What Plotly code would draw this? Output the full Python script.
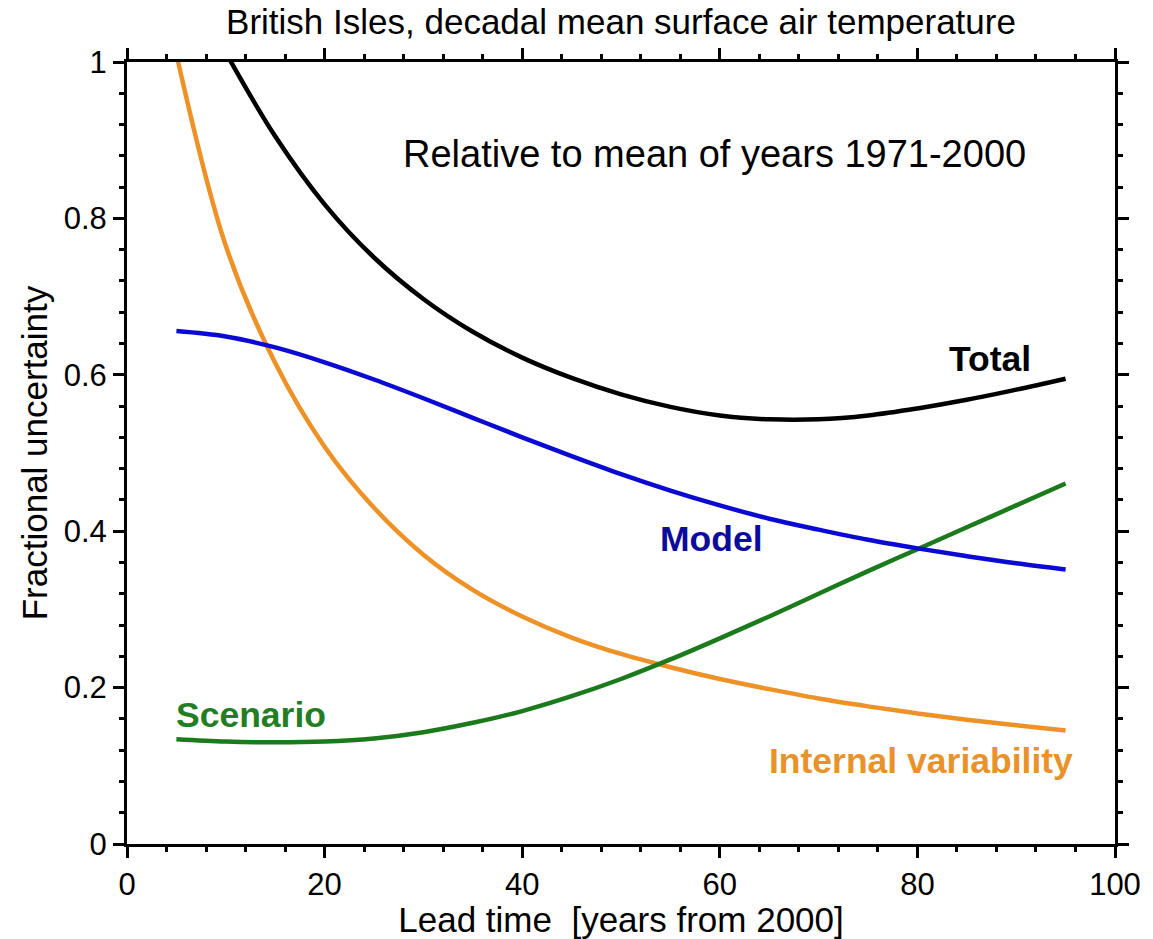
import plotly.graph_objects as go

# Lead time (years from 2000)
lead_time = [5, 10, 15, 20, 25, 30, 35, 40, 45, 50, 55, 60, 65, 70, 75, 80, 85, 90, 95]

# Fractional uncertainty components
internal = [1.01, 0.765, 0.615, 0.508, 0.430, 0.370, 0.325, 0.291, 0.264, 0.243, 0.226, 0.211, 0.198, 0.186, 0.176, 0.167, 0.159, 0.152, 0.145]
model = [0.656, 0.649, 0.635, 0.616, 0.594, 0.570, 0.545, 0.520, 0.496, 0.473, 0.452, 0.433, 0.416, 0.402, 0.389, 0.378, 0.368, 0.359, 0.351]
scenario = [0.134, 0.131, 0.130, 0.131, 0.135, 0.143, 0.155, 0.170, 0.189, 0.211, 0.236, 0.263, 0.291, 0.320, 0.349, 0.377, 0.405, 0.433, 0.461]
total = [None, 1.012, 0.905, 0.818, 0.750, 0.697, 0.655, 0.622, 0.596, 0.575, 0.559, 0.548, 0.543, 0.543, 0.548, 0.557, 0.568, 0.581, 0.595]

x_ticks = [0, 20, 40, 60, 80, 100]
y_ticks = [0, 0.2, 0.4, 0.6, 0.8, 1]
y_tick_text = ["0", "0.2", "0.4", "0.6", "0.8", "1"]

FONT = "Liberation Sans, Arial, sans-serif"
BLACK = "#000000"
BLUE = "#0a0ad2"
GREEN = "#1b7a1b"
ORANGE = "#ee9228"

fig = go.Figure()
series = [
    (internal, ORANGE, "Internal variability"),
    (scenario, GREEN, "Scenario"),
    (model, BLUE, "Model"),
    (total, BLACK, "Total"),
]
for vals, col, name in series:
    fig.add_trace(go.Scatter(
        x=lead_time, y=vals, mode="lines", name=name,
        line=dict(color=col, width=4.5, shape="spline", smoothing=1.0),
        connectgaps=False, showlegend=False,
    ))

labels = [
    ("Total", 87.3, 0.62, BLACK),
    ("Model", 59.2, 0.39, "#0b0b9c"),
    ("Scenario", 12.6, 0.165, "#237d23"),
    ("Internal variability", 80.4, 0.106, "#ea922a"),
]
for txt, lx, ly, col in labels:
    fig.add_annotation(x=lx, y=ly, xref="x", yref="y", text=f"<b>{txt}</b>",
                       showarrow=False, xanchor="center", yanchor="middle",
                       font=dict(family=FONT, size=35.5, color=col))

fig.add_annotation(x=59.5, y=0.882, xref="x", yref="y",
                   text="Relative to mean of years 1971-2000", showarrow=False,
                   xanchor="center", yanchor="middle",
                   font=dict(family=FONT, size=38, color=BLACK))

axis_common = dict(
    showline=True, linewidth=3, linecolor=BLACK, mirror="ticks",
    ticks="outside", ticklen=11, tickwidth=3, tickcolor=BLACK,
    showgrid=False, zeroline=False,
    tickfont=dict(family=FONT, size=31, color=BLACK),
)

fig.update_layout(
    width=1153, height=939,
    margin=dict(l=127, r=32, t=62, b=91),
    paper_bgcolor="white", plot_bgcolor="white",
    title=dict(text="British Isles, decadal mean surface air temperature",
               x=0.5, xref="paper", y=0.977, yanchor="middle",
               font=dict(family=FONT, size=35, color=BLACK)),
    xaxis=dict(range=[0, 100], tickvals=x_ticks,
               minor=dict(dtick=4, tick0=0, ticks="outside", ticklen=5, tickwidth=2.5, tickcolor=BLACK),
               title=dict(text="Lead time \u00a0[years from 2000]", standoff=0,
                          font=dict(family=FONT, size=35, color=BLACK)),
               **axis_common),
    yaxis=dict(range=[0, 1], tickvals=y_ticks, ticktext=y_tick_text,
               minor=dict(dtick=0.04, tick0=0, ticks="outside", ticklen=5, tickwidth=2.5, tickcolor=BLACK),
               title=dict(text="Fractional uncertainty", standoff=6,
                          font=dict(family=FONT, size=35, color=BLACK)),
               **axis_common),
)

fig.write_html("out.html")
